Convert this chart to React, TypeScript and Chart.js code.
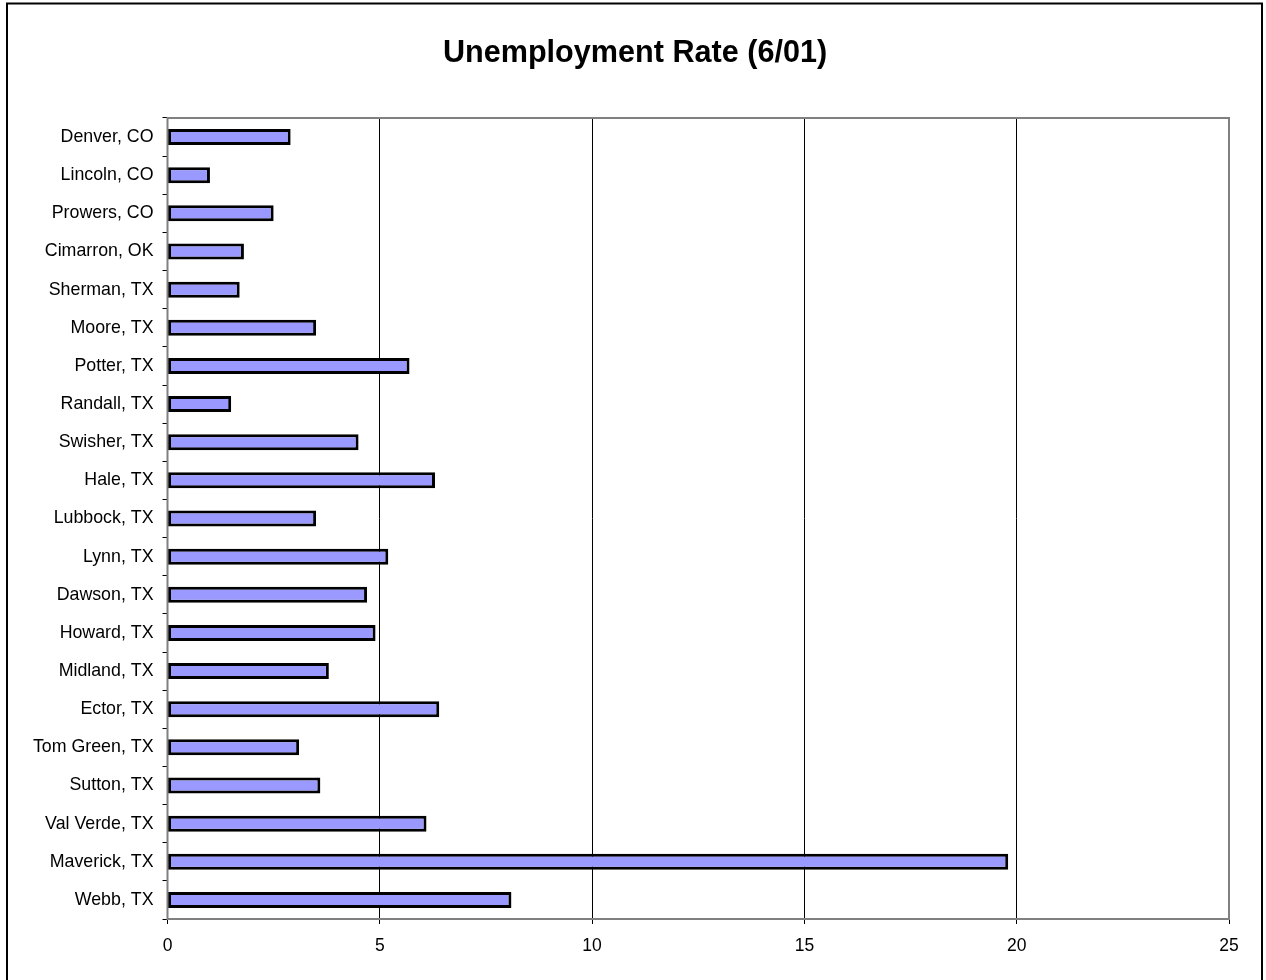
import React, { useEffect, useRef } from "react";
import { Chart, registerables } from "chart.js";

Chart.register(...registerables);

const categories = [
  "Denver, CO", "Lincoln, CO", "Prowers, CO", "Cimarron, OK", "Sherman, TX",
  "Moore, TX", "Potter, TX", "Randall, TX", "Swisher, TX", "Hale, TX",
  "Lubbock, TX", "Lynn, TX", "Dawson, TX", "Howard, TX", "Midland, TX",
  "Ector, TX", "Tom Green, TX", "Sutton, TX", "Val Verde, TX", "Maverick, TX", "Webb, TX",
];
const rates = [
  2.9, 1.0, 2.5, 1.8, 1.7,
  3.5, 5.7, 1.5, 4.5, 6.3,
  3.5, 5.2, 4.7, 4.9, 3.8,
  6.4, 3.1, 3.6, 6.1, 19.8, 8.1,
];
const titleText = "Unemployment Rate (6/01)";
const xMin = 0;
const xMax = 25;
const xStep = 5;

const FONT = "'Liberation Sans', Arial, sans-serif";

const framePlugin = {
  id: "frame",
  beforeDraw(chart: any) {
    const ctx = chart.ctx;
    ctx.save();
    ctx.fillStyle = "#fff";
    ctx.fillRect(0, 0, chart.width, chart.height);
    ctx.strokeStyle = "#000";
    ctx.lineWidth = 2;
    ctx.strokeRect(7, 3.5, 1255, 990);
    ctx.fillStyle = "#000";
    ctx.font = `bold 30.6px ${FONT}`;
    ctx.textAlign = "center";
    ctx.textBaseline = "alphabetic";
    ctx.fillText(titleText, 635, 62);
    ctx.restore();
  },
  afterDatasetsDraw(chart: any) {
    const { ctx, chartArea } = chart;
    ctx.save();
    ctx.strokeStyle = "#808080";
    ctx.lineWidth = 2;
    ctx.strokeRect(chartArea.left, chartArea.top, chartArea.right - chartArea.left, chartArea.bottom - chartArea.top);
    ctx.restore();
  },
};

export default function App() {
  const ref = useRef<HTMLCanvasElement>(null);
  useEffect(() => {
    if (!ref.current) return;
    const chart = new Chart(ref.current, {
      type: "bar",
      data: {
        labels: categories,
        datasets: [
          {
            data: rates,
            backgroundColor: "#9999ff",
            borderColor: "#000",
            borderWidth: 3,
            borderSkipped: false,
            categoryPercentage: 1,
            barPercentage: 0.42,
          },
        ],
      },
      options: {
        indexAxis: "y",
        animation: false,
        responsive: false,
        maintainAspectRatio: false,
        layout: { padding: { left: 0, right: 37, top: 118, bottom: 0 } },
        plugins: {
          legend: { display: false },
          title: { display: false },
          tooltip: { enabled: false },
        },
        scales: {
          x: {
            min: xMin,
            max: xMax,
            ticks: {
              stepSize: xStep,
              color: "#000",
              font: { family: FONT, size: 17.5 },
              padding: 12,
            },
            grid: {
              color: "#000",
              lineWidth: 1,
              tickLength: 5,
              drawTicks: true,
            },
            border: { display: false },
            afterFit(scale: any) {
              scale.height = 61;
            },
          },
          y: {
            ticks: {
              color: "#000",
              font: { family: FONT, size: 17.8 },
              padding: 9,
              autoSkip: false,
            },
            grid: {
              offset: true,
              drawOnChartArea: false,
              color: "#000",
              tickLength: 5,
            },
            border: { display: false },
            afterFit(scale: any) {
              scale.width = 167.5;
            },
          },
        },
      },
      plugins: [framePlugin],
    });
    return () => chart.destroy();
  }, []);
  return (
    <div style={{ position: "fixed", left: 0, top: 0, width: 1266, height: 980 }}>
      <canvas ref={ref} width={1266} height={980} style={{ width: 1266, height: 980 }} />
    </div>
  );
}
